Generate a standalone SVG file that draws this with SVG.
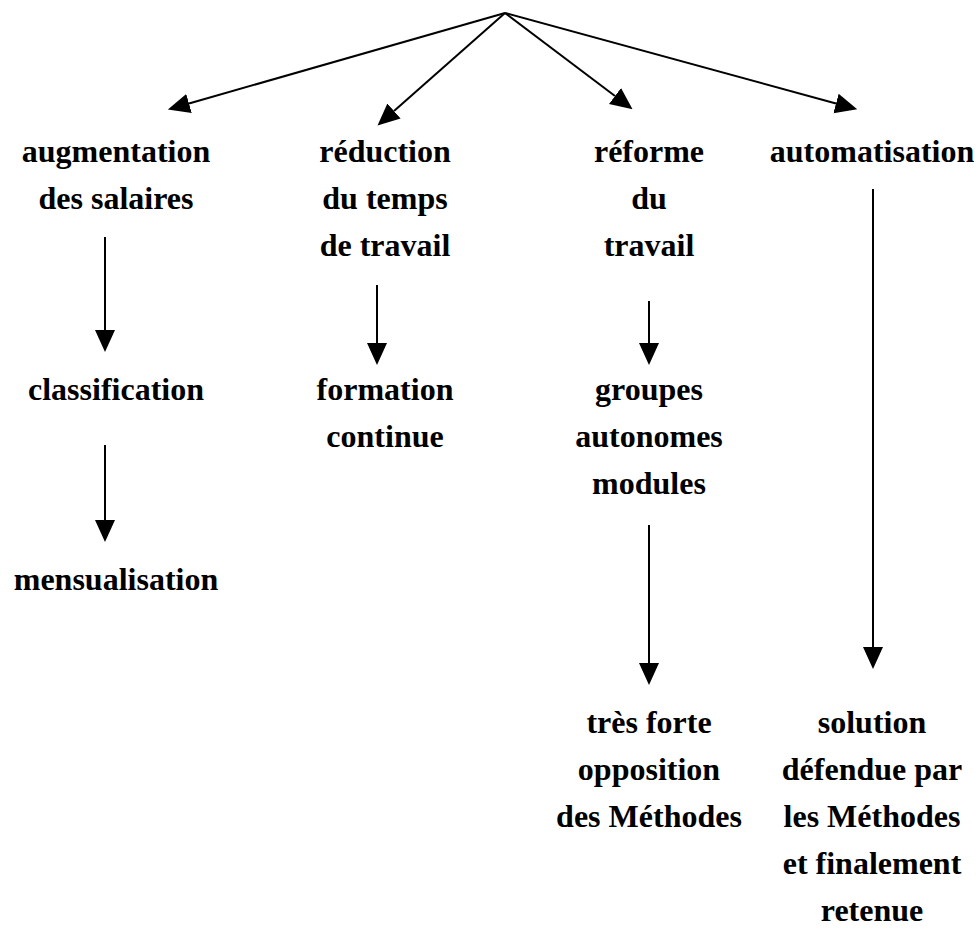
<svg xmlns="http://www.w3.org/2000/svg" width="979" height="930" viewBox="0 0 979 930">
<style>
text{font-family:"Liberation Serif","Times New Roman",serif;font-weight:bold;font-size:32px;fill:#000;text-anchor:middle}
.c{stroke:#000;stroke-width:2;fill:none}
</style>
<defs>
<marker id="ah" markerUnits="userSpaceOnUse" markerWidth="22" markerHeight="22" refX="0" refY="10" orient="auto" viewBox="0 0 22 20">
<path d="M0,0 L22,10 L0,20 Z" fill="#000"/>
</marker>
</defs>
<rect width="979" height="930" fill="#fff"/>
<g id="connectors">
<line class="c" x1="505" y1="13" x2="189" y2="103.5" marker-end="url(#ah)"/>
<line class="c" x1="505" y1="13" x2="394" y2="111" marker-end="url(#ah)"/>
<line class="c" x1="505" y1="13" x2="615" y2="96" marker-end="url(#ah)"/>
<line class="c" x1="505" y1="13" x2="836" y2="103.5" marker-end="url(#ah)"/>
<line class="c" x1="105" y1="237" x2="105" y2="330" marker-end="url(#ah)"/>
<line class="c" x1="105" y1="445" x2="105" y2="520" marker-end="url(#ah)"/>
<line class="c" x1="377" y1="285" x2="377" y2="343" marker-end="url(#ah)"/>
<line class="c" x1="649" y1="301" x2="649" y2="343" marker-end="url(#ah)"/>
<line class="c" x1="649" y1="525" x2="649" y2="663" marker-end="url(#ah)"/>
<line class="c" x1="873" y1="189" x2="873" y2="647" marker-end="url(#ah)"/>
</g>
<g id="augmentation"><text x="116" y="162">augmentation</text><text x="116" y="209">des salaires</text></g>
<g id="reduction"><text x="385" y="162">réduction</text><text x="385" y="209">du temps</text><text x="385" y="256">de travail</text></g>
<g id="reforme"><text x="649" y="162">réforme</text><text x="649" y="209">du</text><text x="649" y="256">travail</text></g>
<g id="automatisation"><text x="872" y="162">automatisation</text></g>
<g id="classification"><text x="116" y="400">classification</text></g>
<g id="formation"><text x="385" y="400">formation</text><text x="385" y="447">continue</text></g>
<g id="groupes"><text x="649" y="400">groupes</text><text x="649" y="447">autonomes</text><text x="649" y="494">modules</text></g>
<g id="mensualisation"><text x="116" y="590">mensualisation</text></g>
<g id="opposition"><text x="649" y="733">très forte</text><text x="649" y="780">opposition</text><text x="649" y="827">des Méthodes</text></g>
<g id="solution"><text x="872" y="733">solution</text><text x="872" y="780">défendue par</text><text x="872" y="827">les Méthodes</text><text x="872" y="874">et finalement</text><text x="872" y="921">retenue</text></g>
</svg>
